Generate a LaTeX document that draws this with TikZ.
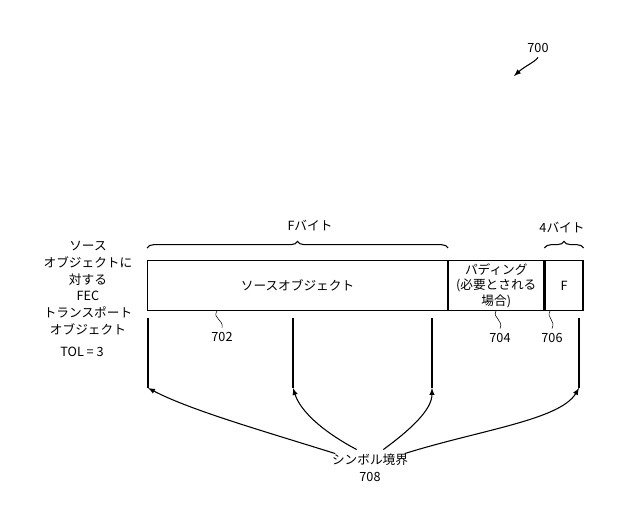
\documentclass[tikz,border=0pt]{standalone}
\usepackage{fontspec}
\setmainfont{Noto Sans CJK JP}
\usetikzlibrary{positioning}
\usetikzlibrary{decorations.pathreplacing}
\tikzset{field/.style={draw, thick, minimum height=37.5pt, inner sep=0pt, align=center, font=\fontsize{9.5}{11.5}\selectfont},
  lbl/.style={font=\fontsize{9.5}{12.5}\selectfont, align=center},
  brc/.style={decorate, decoration={brace, amplitude=5pt}, thick},
  tick/.style={thick},
  arr/.style={thick, -latex}}
\begin{document}
\begin{tikzpicture}[x=0.75pt,y=-0.75pt]
\useasboundingbox (0,0) rectangle (640,511);
\node[field, minimum width=225pt, anchor=north west] at (147,260) (src) {ソースオブジェクト};
\node[field, minimum width=71.5pt, right=0pt of src] (pad) {パディング\\(必要とされる\\場合)};
\node[field, minimum width=28.5pt, right=0pt of pad] (fld) {F};
\draw[brc] (src.north west) ++(0,-12) coordinate (b1) -- (src.north east |- b1);
\draw[brc] (fld.north west) ++(0,-12) coordinate (b2) -- (fld.north east |- b2);
\node[lbl] at (310,226) (fb) {Fバイト};
\node[lbl] at (562,228) (fourb) {4バイト};
\node[lbl, align=center, inner sep=0pt] at (88,288) (left) {ソース\\オブジェクトに\\対する\\FEC\\トランスポート\\オブジェクト};
\node[lbl] at (82,352) (tol) {TOL = 3};
\node[lbl] at (222,337) (l702) {702};
\node[lbl] at (500,338) (l704) {704};
\node[lbl] at (552,338) (l706) {706};
\draw (217,311) .. controls (212,318) and (224,320) .. (l702.north);
\draw (496,311) .. controls (492,318) and (504,320) .. (l704.north);
\draw (550,311) .. controls (546,318) and (556,320) .. (l706.north);
\node[lbl] at (538,48) (l700) {700};
\coordinate (t700) at (514,76);
\draw[arr] (l700.south) .. controls (535,62) and (525,66) .. (t700);
% boundaries
\foreach \x/\n in {148/a,293/b,432/c,579/d}{
  \coordinate (top\n) at (\x,318);
  \coordinate (bot\n) at (\x,388);
  \draw[tick] (top\n) -- (bot\n);
}
\node[lbl] at (370,468) (sym) {シンボル境界\\708};
\draw[arr] (sym.north west) ++(8,4) .. controls (260,430) and (190,410) .. (bota);
\draw[arr] ([xshift=-10pt]sym.north) .. controls (320,430) and (300,410) .. (botb);
\draw[arr] ([xshift=10pt]sym.north) .. controls (410,430) and (432,410) .. (botc);
\draw[arr] (sym.north east) ++(-8,4) .. controls (480,430) and (560,420) .. (botd);
\end{tikzpicture}
\end{document}
